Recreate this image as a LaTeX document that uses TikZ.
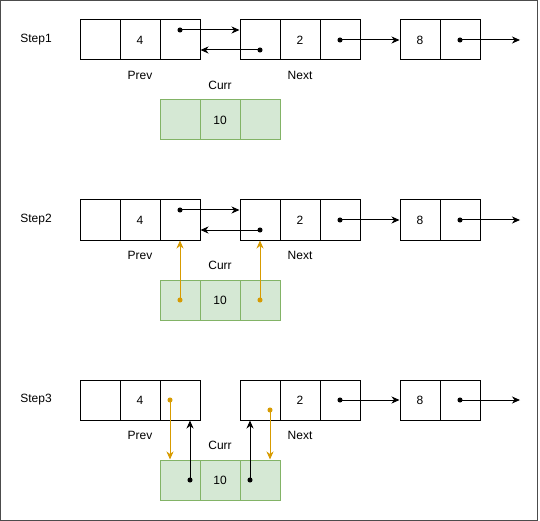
\documentclass[tikz,border=0pt]{standalone}
\usepackage{fontspec}
\setmainfont{Liberation Sans}
\usetikzlibrary{arrows.meta}
\definecolor{CurrFill}{RGB}{213,232,212}
\definecolor{CurrLine}{RGB}{130,179,102}
\definecolor{SwapOrange}{RGB}{215,155,0}

\begin{document}
\begin{tikzpicture}[x=1pt, y=-1pt,
    font=\fontsize{12}{14}\selectfont,
    cell/.style={draw, line width=1pt, minimum width=40pt, minimum height=40pt, inner sep=0pt},
    curr/.style={cell, fill=CurrFill, draw=CurrLine},
    link/.style={line width=1pt, {Circle[length=5pt]}-{Stealth[length=8pt,width=7pt,inset=2.5pt]}, shorten <=-2.5pt},
    swap/.style={link, SwapOrange}]
  \useasboundingbox (0,0) rectangle (540,521);
  \draw[black!70] (0.5,0.5) rectangle (537.5,520.5);

  \foreach \s/\y in {1/0, 2/180, 3/360}{
    \node (step\s) at (36,40+\y) {Step\s};
    \foreach \c/\x/\t in {L/100/, M/140/4, R/180/}
      \node[cell] (prev\c\s) at (\x,40+\y) {\t};
    \foreach \c/\x/\t in {L/260/, M/300/2, R/340/}
      \node[cell] (next\c\s) at (\x,40+\y) {\t};
    \foreach \c/\x/\t in {L/420/8, R/460/}
      \node[cell] (eight\c\s) at (\x,40+\y) {\t};
    \foreach \c/\x/\t in {L/180/, M/220/10, R/260/}
      \node[curr] (curr\c\s) at (\x,120+\y) {\t};
    \node (prevlbl\s) at (140,75+\y) {Prev};
    \node (nextlbl\s) at (300,75+\y) {Next};
    \node (currlbl\s) at (220,85+\y) {Curr};
    \coordinate (tail\s) at (520,40+\y);
    \draw[link] (nextR\s.center) -- (eightL\s.west);
    \draw[link] (eightR\s.center) -- (tail\s);
  }

  % prev <-> next
  \foreach \s in {1,2}{
    \draw[link] ([yshift=10pt]prevR\s.center) -- ([yshift=10pt]nextL\s.west);
    \draw[link] ([yshift=-10pt]nextL\s.center) -- ([yshift=-10pt]prevR\s.east);
  }

  % step 2
  \draw[swap] (currL2.center) -- (prevR2.south);
  \draw[swap] (currR2.center) -- (nextL2.south);

  % step 3
  \draw[swap] ([xshift=-10pt]prevR3.center) -- ([xshift=-10pt]currL3.north);
  \draw[link] ([xshift=10pt]currL3.center) -- ([xshift=10pt]prevR3.south);
  \draw[link] ([xshift=-10pt]currR3.center) -- ([xshift=-10pt]nextL3.south);
  \draw[swap] ([xshift=10pt,yshift=-10pt]nextL3.center) -- ([xshift=10pt]currR3.north);
\end{tikzpicture}
\end{document}
